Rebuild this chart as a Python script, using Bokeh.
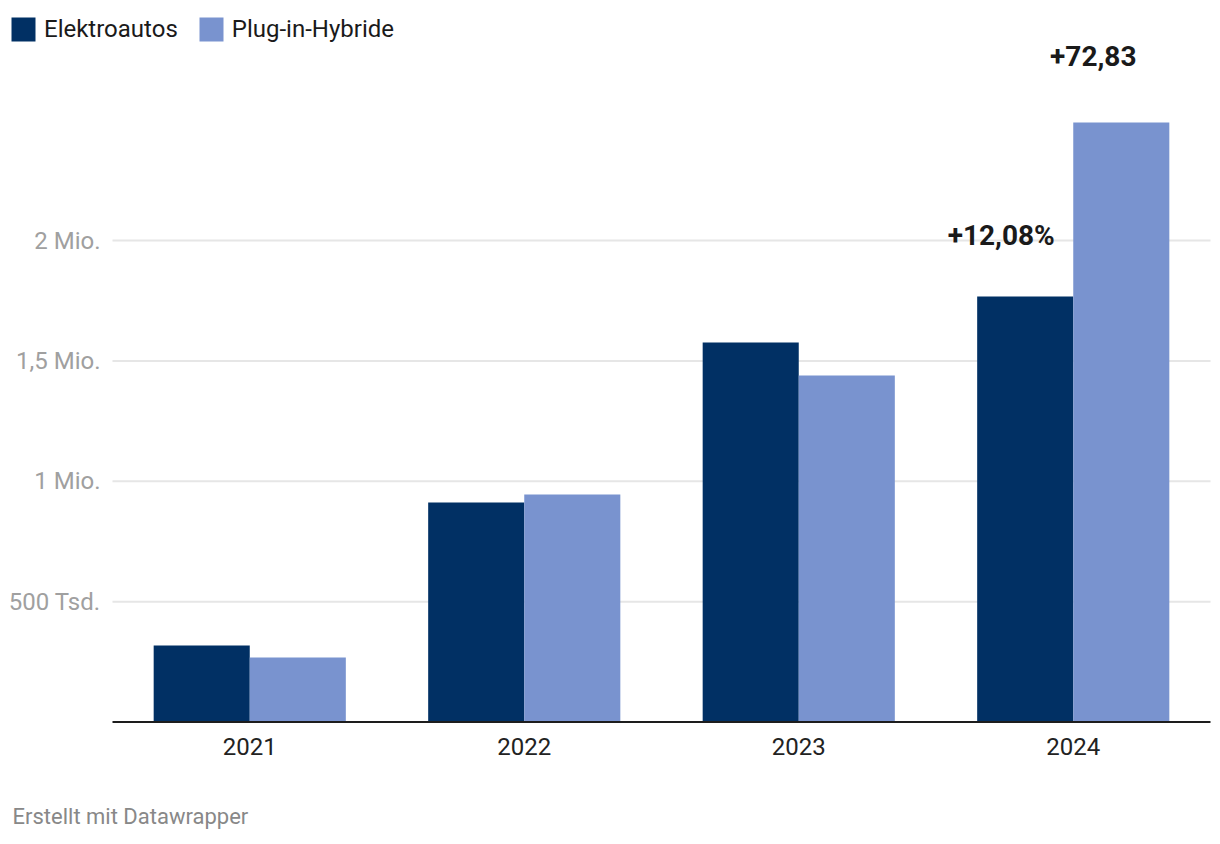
import numpy as np
from bokeh.plotting import figure
from bokeh.models import ColumnDataSource, Range1d, Legend, LegendItem, Label
from bokeh.core.properties import value
from bokeh.embed import file_html
from bokeh.resources import INLINE

years = ["2021", "2022", "2023", "2024"]
elektro = [318000, 912000, 1576000, 1767000]
plugin = [268000, 945000, 1439000, 2490000]
y_ticks = [500000, 1000000, 1500000, 2000000]
y_tick_labels = ["500 Tsd.", "1 Mio.", "1,5 Mio.", "2 Mio."]
series_names = ["Elektroautos", "Plug-in-Hybride"]
colors = ["#013064", "#7993cf"]
change_labels = ["+12,08%", "+72,83"]

# ---- layout constants (pixels) ----
W, H = 1220, 844
PLOT_LEFT, PLOT_RIGHT = 112, 1210
BASE_Y = 721.5
PX_PER_500K = 120.375

n = len(years)
cat_px = (PLOT_RIGHT - PLOT_LEFT) / n
x_start = -PLOT_LEFT / cat_px
x_end = n + (W - PLOT_RIGHT) / cat_px
u = 500000 / PX_PER_500K  # data units per pixel
y_end = BASE_Y * u
y_start = -(H - BASE_Y) * u

p = figure(width=W, height=H, output_backend="svg", toolbar_location=None,
           x_range=Range1d(x_start, x_end), y_range=Range1d(y_start, y_end),
           x_axis_location=None, y_axis_location=None,
           min_border=0, min_border_left=0, min_border_right=0,
           min_border_top=0, min_border_bottom=0)
p.outline_line_color = None
p.grid.visible = False
p.background_fill_color = "white"
p.border_fill_color = "white"

centers = np.arange(n) + 0.5
bw = 0.35

# gridlines
grid_src = ColumnDataSource(dict(y=y_ticks, x0=[0] * len(y_ticks), x1=[n] * len(y_ticks),
                                 lab=y_tick_labels))
p.segment(x0="x0", x1="x1", y0="y", y1="y", source=grid_src,
          line_color="#e6e6e6", line_width=2)
p.text(x="x0", y="y", text="lab", source=grid_src, text_font=value("Roboto"),
       text_font_size="24px", text_color="#a0a0a0", text_align="right",
       text_baseline="middle", x_offset=-12)

src = ColumnDataSource(dict(year=years, xe=centers - bw / 2, xp=centers + bw / 2,
                            xc=centers, elektro=elektro, plugin=plugin,
                            zero=[0] * n))
r1 = p.vbar(x="xe", top="elektro", width=bw, source=src,
            fill_color=colors[0], line_color=None)
r2 = p.vbar(x="xp", top="plugin", width=bw, source=src,
            fill_color=colors[1], line_color=None)

# baseline
p.segment(x0=[0], x1=[n], y0=[0], y1=[0], line_color="#1d1d1d", line_width=2)

# category labels
p.text(x="xc", y="zero", text="year", source=src, text_font=value("Roboto"),
       text_font_size="24px", text_color="#222222", text_align="center",
       text_baseline="alphabetic", y_offset=24)

# change annotations on 2024 bars
last = n - 1
ann = ColumnDataSource(dict(x=[centers[last] - bw / 2, centers[last] + bw / 2],
                            y=[elektro[last], plugin[last]],
                            txt=change_labels, xo=[-24, -28], yo=[-61, -67]))
p.text(x="x", y="y", text="txt", source=ann, text_font=value("Roboto"),
       text_font_style="bold", text_font_size="28px", text_color="#1a1a1a",
       text_align="center", text_baseline="alphabetic",
       x_offset="xo", y_offset="yo")

# legend
legend = Legend(items=[LegendItem(label=series_names[0], renderers=[r1]),
                       LegendItem(label=series_names[1], renderers=[r2])],
                orientation="horizontal", location=(8, H - 44),
                glyph_width=30, glyph_height=30, label_standoff=6, spacing=18,
                padding=0, margin=0, border_line_color=None,
                background_fill_alpha=0,
                label_text_font="Roboto", label_text_font_size="24px",
                label_text_color="#1a1a1a", label_height=30)
p.add_layout(legend, "center")

# footer
foot = Label(x=12, y=H - 816, x_units="screen", y_units="screen",
             text="Erstellt mit Datawrapper", text_font="Roboto",
             text_font_size="22px", text_color="#888888",
             text_baseline="alphabetic")
p.add_layout(foot)

open("out.html", "w").write(file_html(p, INLINE))
